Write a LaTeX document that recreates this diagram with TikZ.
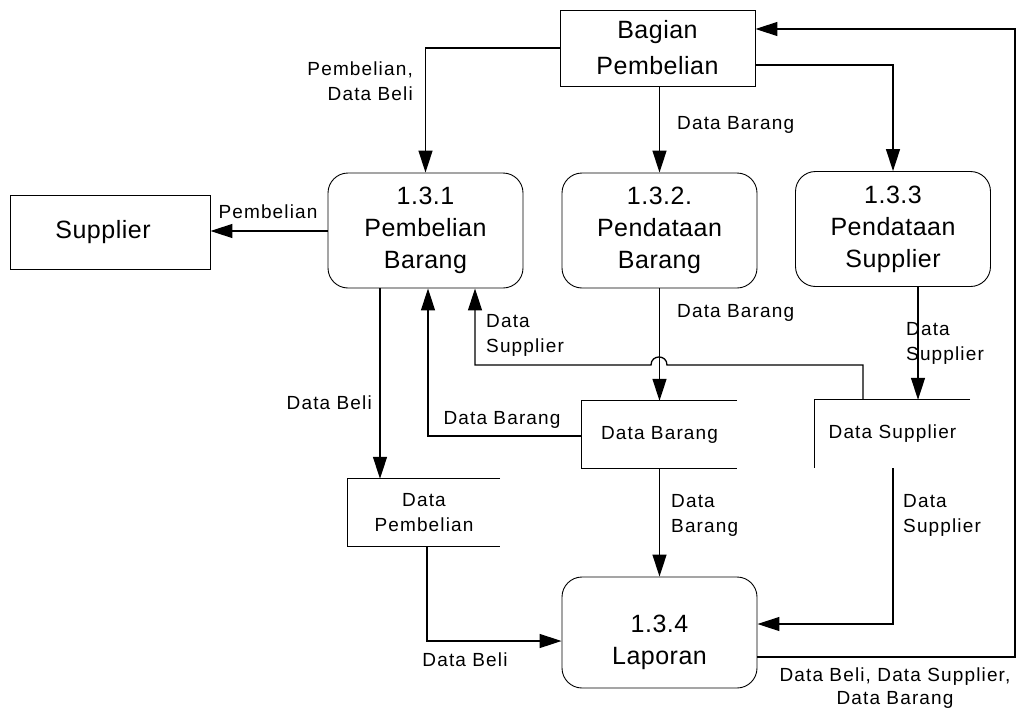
\documentclass[tikz,border=0pt]{standalone}
\usepackage{fontspec}
\setmainfont{Liberation Sans}
\newfontfamily\procfont[LetterSpace=2]{Liberation Sans}
\newfontfamily\lblfont[LetterSpace=6]{Liberation Sans}
\usetikzlibrary{arrows.meta}
\begin{document}
\begin{tikzpicture}[x=1pt,y=-1pt,
  boxline/.style={draw=black, line width=0.9pt},
  entity/.style={boxline, rectangle, inner sep=0pt, align=center,
    font=\procfont\fontsize{25}{36}\selectfont},
  process/.style={boxline, rectangle, rounded corners=20pt, inner sep=0pt,
    minimum width=195pt, minimum height=115pt, align=center,
    font=\procfont\fontsize{25}{32}\selectfont},
  store/.style={rectangle, inner sep=0pt, align=center,
    font=\lblfont\fontsize{19}{25}\selectfont},
  flow/.style={draw=black, line width=1.3pt, -{Triangle[length=22pt,width=14pt]}},
  lbl/.style={inner sep=0pt, align=left, font=\lblfont\fontsize{19}{25}\selectfont},
]
\useasboundingbox (0,0) rectangle (1024,712);

% external entities
\node[entity, minimum width=195pt, minimum height=76pt] (bag) at (657.5,48) {Bagian\\Pembelian};
\node[entity, minimum width=200pt, minimum height=74pt] (sup) at (110,232) {};
\node[inner sep=0pt, font=\procfont\fontsize{25}{32}\selectfont] (supt) at (103,232) {Supplier};

% processes
\node[process] (p1) at (425.5,230.5) {1.3.1\\Pembelian\\Barang};
\node[process] (p2) at (659.5,230.5) {1.3.2.\\Pendataan\\Barang};
\node[process] (p3) at (893,229) {1.3.3\\Pendataan\\Supplier};
\node[process, minimum height=111pt] (p4) at (659.5,632.5) {};
\node[inner sep=0pt, align=center, font=\procfont\fontsize{25}{32}\selectfont] (p4t) at (659.5,642) {1.3.4\\Laporan};

% data stores (open on the right)
\node[store, minimum width=155pt, minimum height=67pt] (db) at (659.5,434.5) {Data Barang};
\node[store, minimum width=155pt, minimum height=68pt] (ds) at (892.5,434) {Data Supplier};
\node[store, minimum width=152pt, minimum height=67pt] (dp) at (424,512.5) {Data\\Pembelian};
\draw[boxline] (db.north east) -- (db.north west) -- (db.south west) -- (db.south east);
\draw[boxline] (ds.north east) -- (ds.north west) -- (ds.south west);
\draw[boxline] (dp.north east) -- (dp.north west) -- (dp.south west) -- (dp.south east);

% flows from Bagian Pembelian
\draw[flow] (bag.west) -| (p1.north);
\node[lbl, anchor=east, align=right] at (413,81) {Pembelian,\\Data Beli};
\draw[flow] (bag.south -| p2.north) -- (p2.north);
\node[lbl, anchor=west] at (677,125) {Data Barang};
\draw[flow] (bag.east |- 0,65) -| (p3.north);

% 1.3.1 Pembelian Barang
\draw[flow] (p1.west |- 0,231) -- (sup.east |- 0,231);
\node[lbl] at (268,212) {Pembelian};
\draw[flow] (p1.south -| 380,0) -- (dp.north -| 380,0);
\node[lbl, anchor=east] at (372,403) {Data Beli};
\draw[flow] (db.west |- 0,436) -| (p1.south -| 428,0);
\node[lbl] at (502,420) {Data Barang};
\draw[flow] (ds.north -| 863,0) -- (863,365) -- (667,365)
  .. controls (667,354.3) and (651,354.3) .. (651,365) -- (475,365) -- (p1.south -| 475,0);
\node[lbl, anchor=west] at (486,335) {Data\\Supplier};

% 1.3.2 and 1.3.3 into their stores
\draw[flow] (p2.south) -- (db.north -| p2.south);
\node[lbl, anchor=west] at (677,313) {Data Barang};
\draw[flow] (p3.south -| 918,0) -- (ds.north -| 918,0);
\node[lbl, anchor=west] at (906,343) {Data\\Supplier};

% stores into 1.3.4 Laporan
\draw[flow] (db.south -| p4.north) -- (p4.north);
\node[lbl, anchor=west] at (671,515) {Data\\Barang};
\draw[flow] (ds.south -| 893,0) -- (893,624) -- (p4.east |- 0,624);
\node[lbl, anchor=west] at (903,515) {Data\\Supplier};
\draw[flow] (dp.south -| 427,0) |- (p4.west |- 0,641);
\node[lbl] at (465,660) {Data Beli};

% report back to Bagian Pembelian
\draw[flow] (p4.east |- 0,657) -| (1015,29) -- (bag.east |- 0,29);
\node[lbl, align=center, font=\lblfont\fontsize{19}{23}\selectfont] at (895,688) {Data Beli, Data Supplier,\\Data Barang};
\end{tikzpicture}
\end{document}
